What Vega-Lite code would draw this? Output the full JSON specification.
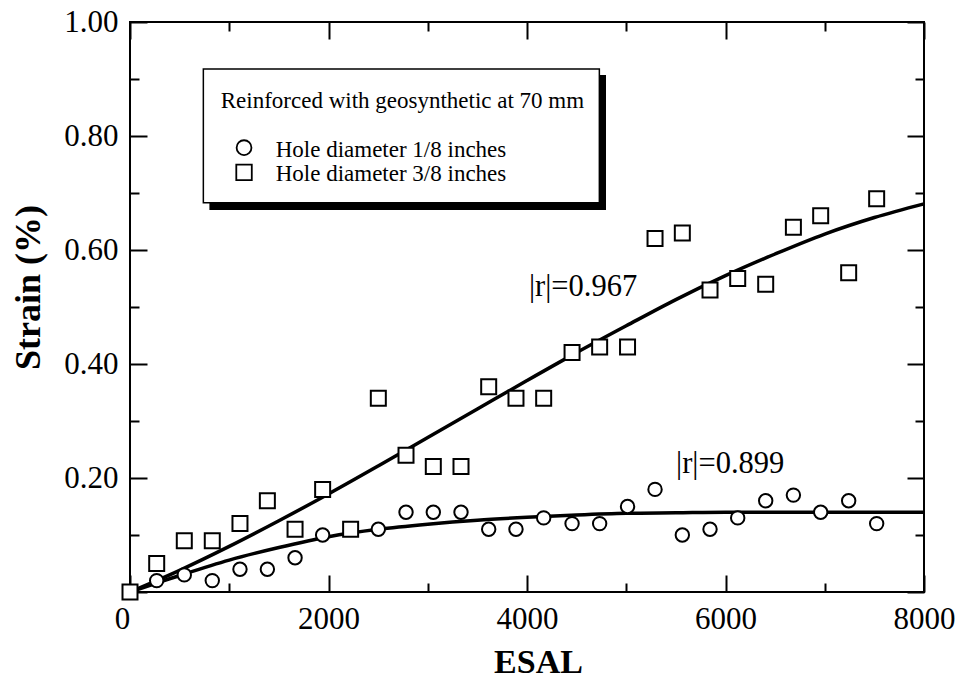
{
  "$schema": "https://vega.github.io/schema/vega-lite/v6.json",
  "width": 794,
  "height": 570,
  "autosize": {"type": "none"},
  "padding": {"left": 130, "top": 22, "right": 38, "bottom": 99},
  "config": {
    "font": "Liberation Serif",
    "view": {"stroke": "black", "strokeWidth": 2},
    "axis": {"grid": false}
  },
  "datasets": {
    "obs": [
      {"esal": 0, "strain": 0.0, "series": "Hole diameter 1/8 inches"},
      {"esal": 269, "strain": 0.02, "series": "Hole diameter 1/8 inches"},
      {"esal": 547, "strain": 0.03, "series": "Hole diameter 1/8 inches"},
      {"esal": 829, "strain": 0.02, "series": "Hole diameter 1/8 inches"},
      {"esal": 1108, "strain": 0.04, "series": "Hole diameter 1/8 inches"},
      {"esal": 1384, "strain": 0.04, "series": "Hole diameter 1/8 inches"},
      {"esal": 1663, "strain": 0.06, "series": "Hole diameter 1/8 inches"},
      {"esal": 1941, "strain": 0.10, "series": "Hole diameter 1/8 inches"},
      {"esal": 2223, "strain": 0.11, "series": "Hole diameter 1/8 inches"},
      {"esal": 2502, "strain": 0.11, "series": "Hole diameter 1/8 inches"},
      {"esal": 2781, "strain": 0.14, "series": "Hole diameter 1/8 inches"},
      {"esal": 3056, "strain": 0.14, "series": "Hole diameter 1/8 inches"},
      {"esal": 3335, "strain": 0.14, "series": "Hole diameter 1/8 inches"},
      {"esal": 3614, "strain": 0.11, "series": "Hole diameter 1/8 inches"},
      {"esal": 3889, "strain": 0.11, "series": "Hole diameter 1/8 inches"},
      {"esal": 4168, "strain": 0.13, "series": "Hole diameter 1/8 inches"},
      {"esal": 4454, "strain": 0.12, "series": "Hole diameter 1/8 inches"},
      {"esal": 4732, "strain": 0.12, "series": "Hole diameter 1/8 inches"},
      {"esal": 5013, "strain": 0.15, "series": "Hole diameter 1/8 inches"},
      {"esal": 5290, "strain": 0.18, "series": "Hole diameter 1/8 inches"},
      {"esal": 5565, "strain": 0.10, "series": "Hole diameter 1/8 inches"},
      {"esal": 5844, "strain": 0.11, "series": "Hole diameter 1/8 inches"},
      {"esal": 6123, "strain": 0.13, "series": "Hole diameter 1/8 inches"},
      {"esal": 6405, "strain": 0.16, "series": "Hole diameter 1/8 inches"},
      {"esal": 6684, "strain": 0.17, "series": "Hole diameter 1/8 inches"},
      {"esal": 6959, "strain": 0.14, "series": "Hole diameter 1/8 inches"},
      {"esal": 7241, "strain": 0.16, "series": "Hole diameter 1/8 inches"},
      {"esal": 7523, "strain": 0.12, "series": "Hole diameter 1/8 inches"},
      {"esal": 0, "strain": 0.0, "series": "Hole diameter 3/8 inches"},
      {"esal": 269, "strain": 0.05, "series": "Hole diameter 3/8 inches"},
      {"esal": 547, "strain": 0.09, "series": "Hole diameter 3/8 inches"},
      {"esal": 829, "strain": 0.09, "series": "Hole diameter 3/8 inches"},
      {"esal": 1108, "strain": 0.12, "series": "Hole diameter 3/8 inches"},
      {"esal": 1384, "strain": 0.16, "series": "Hole diameter 3/8 inches"},
      {"esal": 1663, "strain": 0.11, "series": "Hole diameter 3/8 inches"},
      {"esal": 1941, "strain": 0.18, "series": "Hole diameter 3/8 inches"},
      {"esal": 2223, "strain": 0.11, "series": "Hole diameter 3/8 inches"},
      {"esal": 2502, "strain": 0.34, "series": "Hole diameter 3/8 inches"},
      {"esal": 2781, "strain": 0.24, "series": "Hole diameter 3/8 inches"},
      {"esal": 3056, "strain": 0.22, "series": "Hole diameter 3/8 inches"},
      {"esal": 3335, "strain": 0.22, "series": "Hole diameter 3/8 inches"},
      {"esal": 3614, "strain": 0.36, "series": "Hole diameter 3/8 inches"},
      {"esal": 3889, "strain": 0.34, "series": "Hole diameter 3/8 inches"},
      {"esal": 4168, "strain": 0.34, "series": "Hole diameter 3/8 inches"},
      {"esal": 4454, "strain": 0.42, "series": "Hole diameter 3/8 inches"},
      {"esal": 4732, "strain": 0.43, "series": "Hole diameter 3/8 inches"},
      {"esal": 5013, "strain": 0.43, "series": "Hole diameter 3/8 inches"},
      {"esal": 5290, "strain": 0.62, "series": "Hole diameter 3/8 inches"},
      {"esal": 5565, "strain": 0.63, "series": "Hole diameter 3/8 inches"},
      {"esal": 5844, "strain": 0.53, "series": "Hole diameter 3/8 inches"},
      {"esal": 6123, "strain": 0.55, "series": "Hole diameter 3/8 inches"},
      {"esal": 6405, "strain": 0.54, "series": "Hole diameter 3/8 inches"},
      {"esal": 6684, "strain": 0.64, "series": "Hole diameter 3/8 inches"},
      {"esal": 6959, "strain": 0.66, "series": "Hole diameter 3/8 inches"},
      {"esal": 7241, "strain": 0.56, "series": "Hole diameter 3/8 inches"},
      {"esal": 7523, "strain": 0.69, "series": "Hole diameter 3/8 inches"}
    ],
    "fit": [
      {"esal": 0, "strain": 0.0, "curve": "upper"},
      {"esal": 500, "strain": 0.038, "curve": "upper"},
      {"esal": 1000, "strain": 0.080, "curve": "upper"},
      {"esal": 1500, "strain": 0.125, "curve": "upper"},
      {"esal": 2000, "strain": 0.172, "curve": "upper"},
      {"esal": 2500, "strain": 0.221, "curve": "upper"},
      {"esal": 3000, "strain": 0.271, "curve": "upper"},
      {"esal": 3500, "strain": 0.321, "curve": "upper"},
      {"esal": 4000, "strain": 0.371, "curve": "upper"},
      {"esal": 4500, "strain": 0.420, "curve": "upper"},
      {"esal": 5000, "strain": 0.467, "curve": "upper"},
      {"esal": 5500, "strain": 0.513, "curve": "upper"},
      {"esal": 6000, "strain": 0.555, "curve": "upper"},
      {"esal": 6500, "strain": 0.593, "curve": "upper"},
      {"esal": 7000, "strain": 0.628, "curve": "upper"},
      {"esal": 7500, "strain": 0.657, "curve": "upper"},
      {"esal": 8000, "strain": 0.681, "curve": "upper"},
      {"esal": 0, "strain": 0.0, "curve": "lower"},
      {"esal": 500, "strain": 0.029, "curve": "lower"},
      {"esal": 1000, "strain": 0.056, "curve": "lower"},
      {"esal": 1500, "strain": 0.078, "curve": "lower"},
      {"esal": 2000, "strain": 0.097, "curve": "lower"},
      {"esal": 2500, "strain": 0.110, "curve": "lower"},
      {"esal": 3000, "strain": 0.119, "curve": "lower"},
      {"esal": 3500, "strain": 0.126, "curve": "lower"},
      {"esal": 4000, "strain": 0.131, "curve": "lower"},
      {"esal": 4500, "strain": 0.135, "curve": "lower"},
      {"esal": 5000, "strain": 0.138, "curve": "lower"},
      {"esal": 5500, "strain": 0.139, "curve": "lower"},
      {"esal": 6000, "strain": 0.140, "curve": "lower"},
      {"esal": 6500, "strain": 0.140, "curve": "lower"},
      {"esal": 7000, "strain": 0.140, "curve": "lower"},
      {"esal": 7500, "strain": 0.140, "curve": "lower"},
      {"esal": 8000, "strain": 0.140, "curve": "lower"}
    ]
  },
  "layer": [
    {
      "data": {"values": [{}]},
      "mark": {"type": "rect", "fill": "black", "stroke": null},
      "encoding": {
        "x": {"datum": 800, "type": "quantitative", "scale": {"domain": [0, 8000], "nice": false},
          "axis": {"orient": "bottom", "values": [0, 2000, 4000, 6000, 8000], "format": "d",
            "labelFont": "Liberation Serif", "labelFontSize": 31, "labelColor": "black", "labelPadding": 12,
            "labelFlush": false, "labelOffset": {"condition": {"test": "datum.value === 0", "value": -8}, "value": 0},
            "ticks": false, "tickSize": 0, "domain": false,
            "title": "ESAL", "titleFont": "Liberation Serif", "titleFontSize": 34, "titleFontWeight": "bold",
            "titleColor": "black", "titleX": 408, "titleY": 80, "titleBaseline": "alphabetic", "titleAlign": "center"}},
        "x2": {"datum": 4796},
        "y": {"datum": 0.907, "type": "quantitative", "scale": {"domain": [0, 1], "nice": false},
          "axis": {"orient": "left", "values": [0.2, 0.4, 0.6, 0.8, 1.0], "format": ".2f",
            "labelFont": "Liberation Serif", "labelFontSize": 31, "labelColor": "black", "labelPadding": 12,
            "labelFlush": false, "ticks": false, "tickSize": 0, "domain": false,
            "title": "Strain (%)", "titleFont": "Liberation Serif", "titleFontSize": 36, "titleFontWeight": "bold",
            "titleColor": "black", "titleAngle": -90, "titleX": -91, "titleY": 265, "titleAlign": "center",
            "titleBaseline": "alphabetic"}},
        "y2": {"datum": 0.6702}
      }
    },
    {
      "data": {"values": [{}]},
      "mark": {"type": "rect", "fill": "white", "stroke": "black", "strokeWidth": 1.5},
      "encoding": {
        "x": {"datum": 739, "type": "quantitative",
          "axis": {"orient": "bottom", "values": [0, 2000, 4000, 6000, 8000], "labels": false, "tickSize": -17,
            "tickWidth": 2, "tickColor": "black", "domain": false, "title": null}},
        "x2": {"datum": 4729},
        "y": {"datum": 0.9175, "type": "quantitative",
          "axis": {"orient": "left", "values": [0, 0.2, 0.4, 0.6, 0.8, 1.0], "labels": false, "tickSize": -17,
            "tickWidth": 2, "tickColor": "black", "domain": false, "title": null}},
        "y2": {"datum": 0.683}
      }
    },
    {
      "data": {"name": "fit"},
      "mark": {"type": "line", "color": "black", "strokeWidth": 3.5, "interpolate": "monotone"},
      "encoding": {
        "x": {"field": "esal", "type": "quantitative",
          "axis": {"orient": "bottom", "values": [1000, 3000, 5000, 7000], "labels": false, "tickSize": -9,
            "tickWidth": 2, "tickColor": "black", "domain": false, "title": null}},
        "y": {"field": "strain", "type": "quantitative",
          "axis": {"orient": "left", "values": [0.1, 0.3, 0.5, 0.7, 0.9], "labels": false, "tickSize": -9,
            "tickWidth": 2, "tickColor": "black", "domain": false, "title": null}},
        "detail": {"field": "curve"}
      }
    },
    {
      "data": {"name": "obs"},
      "mark": {"type": "point", "filled": true, "fill": "white", "stroke": "black", "strokeWidth": 2, "opacity": 1},
      "encoding": {
        "x": {"field": "esal", "type": "quantitative",
          "axis": {"orient": "top", "values": [0, 2000, 4000, 6000, 8000], "labels": false, "tickSize": -17,
            "tickWidth": 2, "tickColor": "black", "domain": false, "title": null}},
        "y": {"field": "strain", "type": "quantitative",
          "axis": {"orient": "right", "values": [0, 0.2, 0.4, 0.6, 0.8, 1.0], "labels": false, "tickSize": -17,
            "tickWidth": 2, "tickColor": "black", "domain": false, "title": null}},
        "shape": {"field": "series", "type": "nominal",
          "scale": {"domain": ["Hole diameter 1/8 inches", "Hole diameter 3/8 inches"], "range": ["circle", "square"]},
          "legend": null},
        "size": {"field": "series", "type": "nominal",
          "scale": {"domain": ["Hole diameter 1/8 inches", "Hole diameter 3/8 inches"], "range": [180, 225]},
          "legend": null}
      }
    },
    {
      "data": {"values": [{}]},
      "mark": {"type": "text", "text": "|r|=0.967", "font": "Liberation Serif", "fontSize": 30.5, "color": "black", "align": "left", "baseline": "alphabetic"},
      "encoding": {
        "x": {"datum": 4020, "type": "quantitative",
          "axis": {"orient": "top", "values": [1000, 3000, 5000, 7000], "labels": false, "tickSize": -9,
            "tickWidth": 2, "tickColor": "black", "domain": false, "title": null}},
        "y": {"datum": 0.519, "type": "quantitative",
          "axis": {"orient": "right", "values": [0.1, 0.3, 0.5, 0.7, 0.9], "labels": false, "tickSize": -9,
            "tickWidth": 2, "tickColor": "black", "domain": false, "title": null}}
      }
    },
    {
      "data": {"values": [{}]},
      "mark": {"type": "text", "text": "|r|=0.899", "font": "Liberation Serif", "fontSize": 30.5, "color": "black", "align": "left", "baseline": "alphabetic"},
      "encoding": {
        "x": {"datum": 5502, "type": "quantitative", "axis": null},
        "y": {"datum": 0.208, "type": "quantitative", "axis": null}
      }
    },
    {
      "data": {"values": [{}]},
      "mark": {"type": "text", "text": "Reinforced with geosynthetic at 70 mm", "font": "Liberation Serif", "fontSize": 23, "color": "black", "align": "left", "baseline": "alphabetic"},
      "encoding": {
        "x": {"datum": 914, "type": "quantitative", "axis": null},
        "y": {"datum": 0.849, "type": "quantitative", "axis": null}
      }
    },
    {
      "data": {"values": [{}]},
      "mark": {"type": "text", "text": "Hole diameter 1/8 inches", "font": "Liberation Serif", "fontSize": 23, "color": "black", "align": "left", "baseline": "alphabetic"},
      "encoding": {
        "x": {"datum": 1468, "type": "quantitative", "axis": null},
        "y": {"datum": 0.7637, "type": "quantitative", "axis": null}
      }
    },
    {
      "data": {"values": [{}]},
      "mark": {"type": "text", "text": "Hole diameter 3/8 inches", "font": "Liberation Serif", "fontSize": 23, "color": "black", "align": "left", "baseline": "alphabetic"},
      "encoding": {
        "x": {"datum": 1468, "type": "quantitative", "axis": null},
        "y": {"datum": 0.7211, "type": "quantitative", "axis": null}
      }
    },
    {
      "data": {"values": [{}]},
      "mark": {"type": "point", "shape": "circle", "filled": true, "fill": "white", "stroke": "black", "strokeWidth": 1.8, "size": 220, "opacity": 1},
      "encoding": {
        "x": {"datum": 1149, "type": "quantitative", "axis": null},
        "y": {"datum": 0.7795, "type": "quantitative", "axis": null}
      }
    },
    {
      "data": {"values": [{}]},
      "mark": {"type": "point", "shape": "square", "filled": true, "fill": "white", "stroke": "black", "strokeWidth": 1.8, "size": 240, "opacity": 1},
      "encoding": {
        "x": {"datum": 1149, "type": "quantitative", "axis": null},
        "y": {"datum": 0.7363, "type": "quantitative", "axis": null}
      }
    }
  ],
  "resolve": {"axis": {"x": "independent", "y": "independent"}}
}
